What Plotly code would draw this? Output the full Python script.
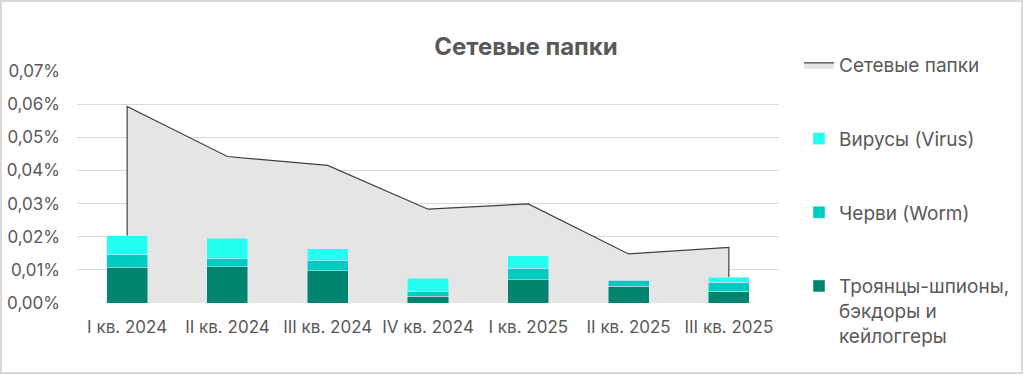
import plotly.graph_objects as go

categories = ["I кв. 2024", "II кв. 2024", "III кв. 2024", "IV кв. 2024",
              "I кв. 2025", "II кв. 2025", "III кв. 2025"]
network_folders = [0.0593, 0.0442, 0.0415, 0.0283, 0.0299, 0.0148, 0.0168]
trojans = [0.0107, 0.0110, 0.0098, 0.0020, 0.0070, 0.0050, 0.0035]
worms = [0.0039, 0.0024, 0.0030, 0.0015, 0.0035, 0.0018, 0.0027]
viruses = [0.0057, 0.0062, 0.0036, 0.0039, 0.0038, 0.0002, 0.0015]
y_ticks = [0.00, 0.01, 0.02, 0.03, 0.04, 0.05, 0.06, 0.07]
y_tick_text = [f"{v:.2f}%".replace(".", ",") for v in y_ticks]

FONT = "Inter"
GREY = "#595959"

# plot-area geometry in pixels
W, H = 1024, 375
L, R, T, B = 77, 245, 71, 72
PW, PH = W - L - R, H - T - B

fig = go.Figure()

# area polygon closed to baseline at both ends (Excel-like vertical edges)
area_x = [categories[0]] + categories + [categories[-1]]
area_y = [0] + network_folders + [0]
fig.add_trace(go.Scatter(
    x=area_x, y=area_y, mode="lines", fill="tozeroy",
    fillcolor="#e5e5e5", line=dict(color="#404040", width=1.2),
    name="Сетевые папки", legendgroup="a", legendrank=1,
    hoverinfo="skip", xaxis="x", yaxis="y",
))

fig.add_trace(go.Bar(x=categories, y=trojans, name="Троянцы-шпионы,<br>бэкдоры и<br>кейлоггеры",
                     marker_color="#00836f", legendgroup="d", legendrank=4,
                     xaxis="x2", yaxis="y2", width=0.41))
fig.add_trace(go.Bar(x=categories, y=worms, name="Черви (Worm)",
                     marker_color="#00cbc0", legendgroup="c", legendrank=3,
                     xaxis="x2", yaxis="y2", width=0.41))
fig.add_trace(go.Bar(x=categories, y=viruses, name="Вирусы (Virus)",
                     marker_color="#23fff0", legendgroup="b", legendrank=2,
                     xaxis="x2", yaxis="y2", width=0.41))

yr = [0, 0.07]
xr = [-0.5, 6.5]

fig.update_layout(
    width=W, height=H,
    margin=dict(l=L, r=R, t=T, b=B, autoexpand=False),
    paper_bgcolor="white", plot_bgcolor="white",
    separators=", ",
    barmode="stack",
    font=dict(family=FONT, color=GREY, size=16),
    title=dict(text="<b>Сетевые папки</b>", x=526 / W, xref="container",
               xanchor="center", y=1 - 47 / H, yanchor="middle",
               font=dict(size=24, color=GREY, family=FONT)),
    xaxis=dict(type="category", categoryorder="array", categoryarray=categories,
               range=xr, showgrid=False, showline=False, zeroline=False, automargin=False,
               tickfont=dict(size=17, color=GREY), ticks="", ticklabelstandoff=12),
    yaxis=dict(range=yr, tickmode="array", tickvals=y_ticks, ticktext=y_tick_text,
               showgrid=True, gridcolor="#d9d9d9", gridwidth=1.2, zeroline=False,
               automargin=False, showline=False, tickfont=dict(size=17, color=GREY),
               ticklabelstandoff=16),
    xaxis2=dict(type="category", categoryorder="array", categoryarray=categories,
                range=xr, overlaying="x", showgrid=False, showticklabels=False,
                zeroline=False, showline=False),
    yaxis2=dict(range=yr, overlaying="y", showgrid=False, showticklabels=False,
                zeroline=False, showline=False),
    legend=dict(xref="container", yref="container", x=799 / W, xanchor="left",
                y=1 - 46 / H, yanchor="top",
                traceorder="grouped", tracegroupgap=46, valign="top",
                font=dict(size=19, color=GREY, family=FONT), itemwidth=30,
                bgcolor="rgba(0,0,0,0)", maxheight=600),
    showlegend=True,
    shapes=[dict(type="rect", xref="paper", yref="paper",
                 x0=(1 - L) / PW, x1=(1022 - L) / PW,
                 y0=(H - B - 373) / PH, y1=(H - B - 1) / PH,
                 line=dict(color="#d9d9d9", width=2), fillcolor="rgba(0,0,0,0)",
                 layer="below")],
)

fig.write_html("out.html", config={"displayModeBar": False},
               post_script="document.body.style.margin='0';")
